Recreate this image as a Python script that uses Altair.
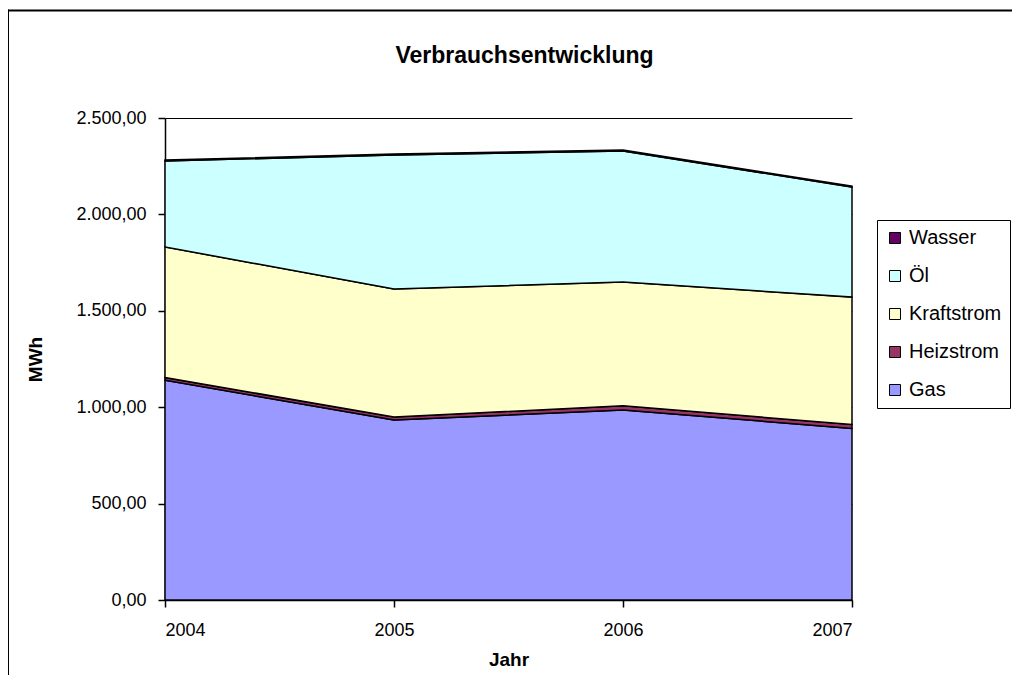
import altair as alt
import pandas as pd

years = [2004, 2005, 2006, 2007]
series = ["Gas", "Heizstrom", "Kraftstrom", "Öl", "Wasser"]
gas = [1140, 934, 985, 890]
heizstrom = [14, 15, 22, 20]
kraftstrom = [677, 664, 642, 661]
oel = [446, 695, 680, 571]
wasser = [5, 5, 5, 5]
colors = ["#9999FF", "#993366", "#FFFFCC", "#CCFFFF", "#660066"]
legend_order = ["Wasser", "Öl", "Kraftstrom", "Heizstrom", "Gas"]

values = {"Gas": gas, "Heizstrom": heizstrom, "Kraftstrom": kraftstrom, "Öl": oel, "Wasser": wasser}
rows = []
for i, s in enumerate(series):
    for y, v in zip(years, values[s]):
        rows.append({"Jahr": y, "Serie": s, "MWh": v, "ord": i})
df = pd.DataFrame(rows)

color_map = dict(zip(series, colors))

FONT = "Liberation Sans"

area = alt.Chart(df).mark_area(stroke="black", strokeWidth=1.5, opacity=1).encode(
    x=alt.X("Jahr:Q", scale=alt.Scale(domain=[2004, 2007], nice=False, zero=False),
            axis=alt.Axis(values=years, format="d", title="Jahr", grid=False,
                          tickSize=7, labelPadding=14, titlePadding=11)),
    y=alt.Y("MWh:Q", stack="zero", scale=alt.Scale(domain=[0, 2500], nice=False),
            axis=alt.Axis(values=[0, 500, 1000, 1500, 2000, 2500], title="MWh",
                          labelExpr="replace(replace(replace(format(datum.value, ',.2f'), ',', '#'), '.', ','), '#', '.')",
                          grid=True, gridColor="black", gridOpacity=1, gridWidth=1,
                          tickSize=7, labelPadding=12, titlePadding=30)),
    color=alt.Color("Serie:N",
                    scale=alt.Scale(domain=legend_order, range=[color_map[s] for s in legend_order]),
                    legend=alt.Legend(title=None, orient="none", legendX=712, legendY=102,
                                      symbolType="square", symbolSize=121,
                                      symbolStrokeColor="black", symbolStrokeWidth=1,
                                      symbolOpacity=1,
                                      labelFontSize=20, labelFont=FONT, labelColor="black",
                                      rowPadding=18, padding=8, strokeColor="black",
                                      fillColor="white", labelOffset=4, labelLimit=200)),
    order=alt.Order("ord:Q", sort="ascending"),
)

frame_top = alt.Chart(pd.DataFrame({"a": [0]})).mark_rule(
    color="black", strokeWidth=2, clip=False
).encode(
    x=alt.value(-157), x2=alt.value(847), y=alt.value(-107.5),
)
frame_left = alt.Chart(pd.DataFrame({"a": [0]})).mark_rule(
    color="black", strokeWidth=2, clip=False
).encode(
    x=alt.value(-157), y=alt.value(-108.5), y2=alt.value(557),
)

chart = alt.layer(area, frame_top, frame_left).properties(
    width=687, height=482,
    autosize=alt.AutoSizeParams(type="none"),
    padding={"left": 157, "top": 110, "right": 160, "bottom": 75},
    title=alt.TitleParams("Verbrauchsentwicklung", fontSize=23, font=FONT, fontWeight="bold",
                          anchor="middle", frame="group", dx=16, offset=-59, color="black"),
).configure_view(stroke=None).configure_axis(
    domainColor="black", domainWidth=1.5, tickColor="black", tickWidth=1.5,
    labelFont=FONT, labelFontSize=18, labelColor="black",
    titleFont=FONT, titleFontSize=19, titleFontWeight="bold", titleColor="black",
)

chart.save("out.html", embed_options={"renderer": "svg", "actions": False})
